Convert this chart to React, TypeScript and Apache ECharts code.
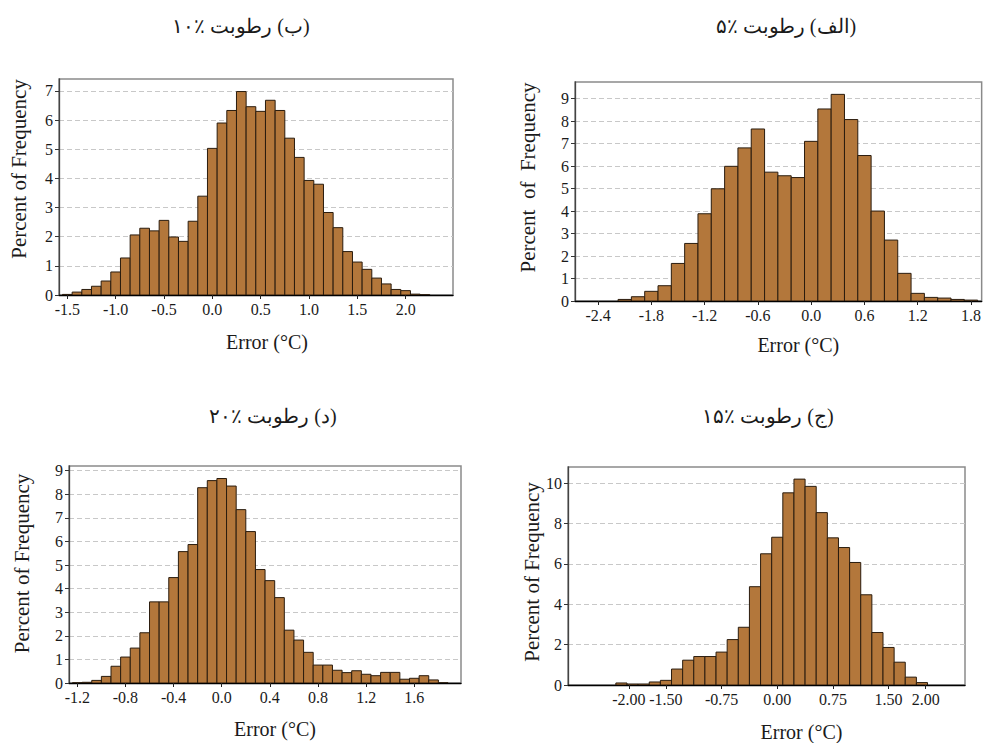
import React, { useEffect, useRef } from "react";
import * as echarts from "echarts";

const FONT = '"Liberation Serif", "Times New Roman", serif';

// ---- Panel titles (RTL Persian) ----
const titleB = "\u200F(ب) رطوبت ٪۱۰\u200F";
const titleA = "\u200F(الف) رطوبت ٪۵\u200F";
const titleD = "\u200F(د) رطوبت ٪۲۰\u200F";
const titleC = "\u200F(ج) رطوبت ٪۱۵\u200F";

const xName = "Error (°C)";
const yName = "Percent of Frequency";
const yNameSpaced = "Percent\u00A0\u00A0of\u00A0\u00A0Frequency";

// ---- (ب) 10% humidity: bin width 0.1 ----
const binWidthB = 0.1;
const centersB = [-1.5, -1.4, -1.3, -1.2, -1.1, -1.0, -0.9, -0.8, -0.7, -0.6, -0.5, -0.4, -0.3, -0.2, -0.1, 0.0, 0.1, 0.2, 0.3, 0.4, 0.5, 0.6, 0.7, 0.8, 0.9, 1.0, 1.1, 1.2, 1.3, 1.4, 1.5, 1.6, 1.7, 1.8, 1.9, 2.0, 2.1, 2.2];
const freqB = [0.02, 0.10, 0.19, 0.30, 0.48, 0.79, 1.27, 2.06, 2.29, 2.20, 2.56, 1.99, 1.84, 2.53, 3.39, 5.03, 5.90, 6.33, 6.98, 6.46, 6.30, 6.68, 6.33, 5.38, 4.72, 3.93, 3.80, 2.83, 2.31, 1.49, 1.13, 0.88, 0.58, 0.38, 0.19, 0.15, 0.03, 0.01];
const xTicksB = [-1.5, -1.0, -0.5, 0.0, 0.5, 1.0, 1.5, 2.0];
const yTicksB = [0, 1, 2, 3, 4, 5, 6, 7];

// ---- (الف) 5% humidity: bin width 0.15 ----
const binWidthA = 0.15;
const centersA = [-2.1, -1.95, -1.8, -1.65, -1.5, -1.35, -1.2, -1.05, -0.9, -0.75, -0.6, -0.45, -0.3, -0.15, 0.0, 0.15, 0.3, 0.45, 0.6, 0.75, 0.9, 1.05, 1.2, 1.35, 1.5, 1.65, 1.8];
const freqA = [0.07, 0.19, 0.43, 0.68, 1.67, 2.56, 3.88, 4.99, 5.99, 6.81, 7.65, 5.73, 5.57, 5.49, 7.10, 8.54, 9.19, 8.07, 6.47, 4.00, 2.71, 1.23, 0.34, 0.16, 0.13, 0.07, 0.04];
const xTicksA = [-2.4, -1.8, -1.2, -0.6, 0.0, 0.6, 1.2, 1.8];
const yTicksA = [0, 1, 2, 3, 4, 5, 6, 7, 8, 9];

// ---- (د) 20% humidity: bin width 0.08 ----
const binWidthD = 0.08;
const centersD = [-1.2, -1.12, -1.04, -0.96, -0.88, -0.8, -0.72, -0.64, -0.56, -0.48, -0.4, -0.32, -0.24, -0.16, -0.08, 0.0, 0.08, 0.16, 0.24, 0.32, 0.4, 0.48, 0.56, 0.64, 0.72, 0.8, 0.88, 0.96, 1.04, 1.12, 1.2, 1.28, 1.36, 1.44, 1.52, 1.6, 1.68, 1.76, 1.84];
const freqD = [0.01, 0.03, 0.11, 0.28, 0.71, 1.10, 1.48, 2.13, 3.44, 3.44, 4.47, 5.57, 5.87, 8.28, 8.58, 8.67, 8.35, 7.35, 6.42, 4.81, 4.34, 3.62, 2.24, 1.82, 1.30, 0.76, 0.76, 0.54, 0.44, 0.52, 0.37, 0.31, 0.45, 0.45, 0.16, 0.20, 0.31, 0.13, 0.01];
const xTicksD = [-1.2, -0.8, -0.4, 0.0, 0.4, 0.8, 1.2, 1.6];
const yTicksD = [0, 1, 2, 3, 4, 5, 6, 7, 8, 9];

// ---- (ج) 15% humidity: bin width 0.15 ----
const binWidthC = 0.15;
const centersC = [-2.1, -1.95, -1.8, -1.65, -1.5, -1.35, -1.2, -1.05, -0.9, -0.75, -0.6, -0.45, -0.3, -0.15, 0.0, 0.15, 0.3, 0.45, 0.6, 0.75, 0.9, 1.05, 1.2, 1.35, 1.5, 1.65, 1.8, 1.95];
const freqC = [0.10, 0.05, 0.05, 0.15, 0.23, 0.79, 1.23, 1.41, 1.41, 1.63, 2.25, 2.86, 4.87, 6.50, 7.32, 9.52, 10.20, 9.84, 8.54, 7.29, 6.81, 6.07, 4.47, 2.60, 1.86, 1.13, 0.39, 0.12];
const xTicksC = [-2.0, -1.5, -0.75, 0.0, 0.75, 1.5, 2.0];
const yTicksC = [0, 2, 4, 6, 8, 10];

const FILL = "#b3773b";
const STROKE = "#2a1c0e";
const TEXT = "#1a1a1a";

type Panel = {
  title: string;
  titleX: number;
  titleY: number;
  grid: { left: number; top: number; width: number; height: number };
  xMin: number;
  xMax: number;
  yMax: number;
  yInterval: number;
  xTicks: number[];
  yTicks: number[];
  decimals: number;
  centers: number[];
  freq: number[];
  binWidth: number;
  yLabel: string;
  xNameGap: number;
  xNameShift: number;
  yNameGap: number;
  yNameShift: number;
};

const panels: Panel[] = [
  {
    title: titleB, titleX: 241, titleY: 26,
    grid: { left: 59, top: 79, width: 394, height: 216 },
    xMin: -1.586, xMax: 2.49, yMax: 7.41, yInterval: 1,
    xTicks: xTicksB, yTicks: yTicksB, decimals: 1,
    centers: centersB, freq: freqB, binWidth: binWidthB,
    yLabel: yName, xNameGap: 37, xNameShift: 11, yNameGap: 30, yNameShift: 18,
  },
  {
    title: titleA, titleX: 786, titleY: 26,
    grid: { left: 575, top: 82, width: 407, height: 219 },
    xMin: -2.66, xMax: 1.92, yMax: 9.74, yInterval: 1,
    xTicks: xTicksA, yTicks: yTicksA, decimals: 1,
    centers: centersA, freq: freqA, binWidth: binWidthA,
    yLabel: yNameSpaced, xNameGap: 34, xNameShift: 20, yNameGap: 37, yNameShift: 14,
  },
  {
    title: titleD, titleX: 273, titleY: 416,
    grid: { left: 69, top: 466, width: 392, height: 217 },
    xMin: -1.269, xMax: 1.988, yMax: 9.2, yInterval: 1,
    xTicks: xTicksD, yTicks: yTicksD, decimals: 1,
    centers: centersD, freq: freqD, binWidth: binWidthD,
    yLabel: yName, xNameGap: 36, xNameShift: 10, yNameGap: 37, yNameShift: 11,
  },
  {
    title: titleC, titleX: 768, titleY: 416,
    grid: { left: 568, top: 467, width: 397, height: 219 },
    xMin: -2.82, xMax: 2.53, yMax: 10.8, yInterval: 2,
    xTicks: xTicksC, yTicks: yTicksC, decimals: 2,
    centers: centersC, freq: freqC, binWidth: binWidthC,
    yLabel: yName, xNameGap: 37, xNameShift: 35, yNameGap: 26, yNameShift: 4,
  },
];

function buildOption() {
  return {
    animation: false,
    backgroundColor: "#ffffff",
    graphic: panels.map((p) => ({
      type: "text",
      x: p.titleX,
      y: p.titleY,
      style: {
        text: p.title,
        fill: TEXT,
        font: `normal 20px ${FONT}`,
        textAlign: "center",
        textVerticalAlign: "middle",
      },
    })),
    grid: panels.map((p) => ({
      ...p.grid,
      show: true,
      backgroundColor: "#ffffff",
      borderColor: "#8a8a8a",
      borderWidth: 1.5,
      containLabel: false,
    })),
    xAxis: panels.map((p, i) => ({
      gridIndex: i,
      type: "value",
      min: p.xMin,
      max: p.xMax,
      name: xName,
      nameLocation: "middle",
      nameGap: p.xNameGap,
      nameTextStyle: {
        fontFamily: FONT,
        fontSize: 20,
        color: TEXT,
        padding: [0, 0, 0, p.xNameShift * 2],
      },
      axisLine: { show: true, onZero: false, lineStyle: { color: "#000", width: 1.3 } },
      axisTick: { show: true, customValues: p.xTicks, length: 4, lineStyle: { color: "#222" } },
      axisLabel: {
        customValues: p.xTicks,
        formatter: (v: number) => v.toFixed(p.decimals),
        fontFamily: FONT,
        fontSize: 16,
        color: TEXT,
        margin: 6,
      },
      splitLine: { show: false },
    })),
    yAxis: panels.map((p, i) => ({
      gridIndex: i,
      type: "value",
      min: 0,
      max: p.yMax,
      interval: p.yInterval,
      name: p.yLabel,
      nameLocation: "middle",
      nameGap: p.yNameGap,
      nameTextStyle: {
        fontFamily: FONT,
        fontSize: 21,
        color: TEXT,
        padding: [0, 0, 0, p.yNameShift * 2],
      },
      axisLine: { show: true, onZero: false, lineStyle: { color: "#444", width: 1.3 } },
      axisTick: { show: true, customValues: p.yTicks, length: 4, lineStyle: { color: "#333" } },
      axisLabel: {
        customValues: p.yTicks,
        fontFamily: FONT,
        fontSize: 16,
        color: TEXT,
        margin: 6,
      },
      splitLine: { show: true, lineStyle: { color: "#c8c8c8", type: [5, 3], width: 1 } },
    })),
    series: panels.map((p, i) => ({
      type: "custom",
      xAxisIndex: i,
      yAxisIndex: i,
      clip: true,
      data: p.centers.map((c, k) => [c, p.freq[k]]),
      encode: { x: 0, y: 1 },
      renderItem: (_params: any, api: any) => {
        const c = api.value(0);
        const v = api.value(1);
        const p0 = api.coord([c - p.binWidth / 2, v]);
        const p1 = api.coord([c + p.binWidth / 2, 0]);
        return {
          type: "rect",
          shape: { x: p0[0], y: p0[1], width: p1[0] - p0[0], height: p1[1] - p0[1] },
          style: { fill: FILL, stroke: STROKE, lineWidth: 1 },
        };
      },
    })),
  };
}

export default function App() {
  const ref = useRef<HTMLDivElement | null>(null);
  useEffect(() => {
    if (!ref.current) return;
    document.body.style.margin = "0";
    const chart = echarts.init(ref.current, undefined, { renderer: "svg" });
    chart.setOption(buildOption() as any);
    return () => chart.dispose();
  }, []);
  return (
    <div
      ref={ref}
      style={{ position: "fixed", left: 0, top: 0, width: 984, height: 743, background: "#fff" }}
    />
  );
}
